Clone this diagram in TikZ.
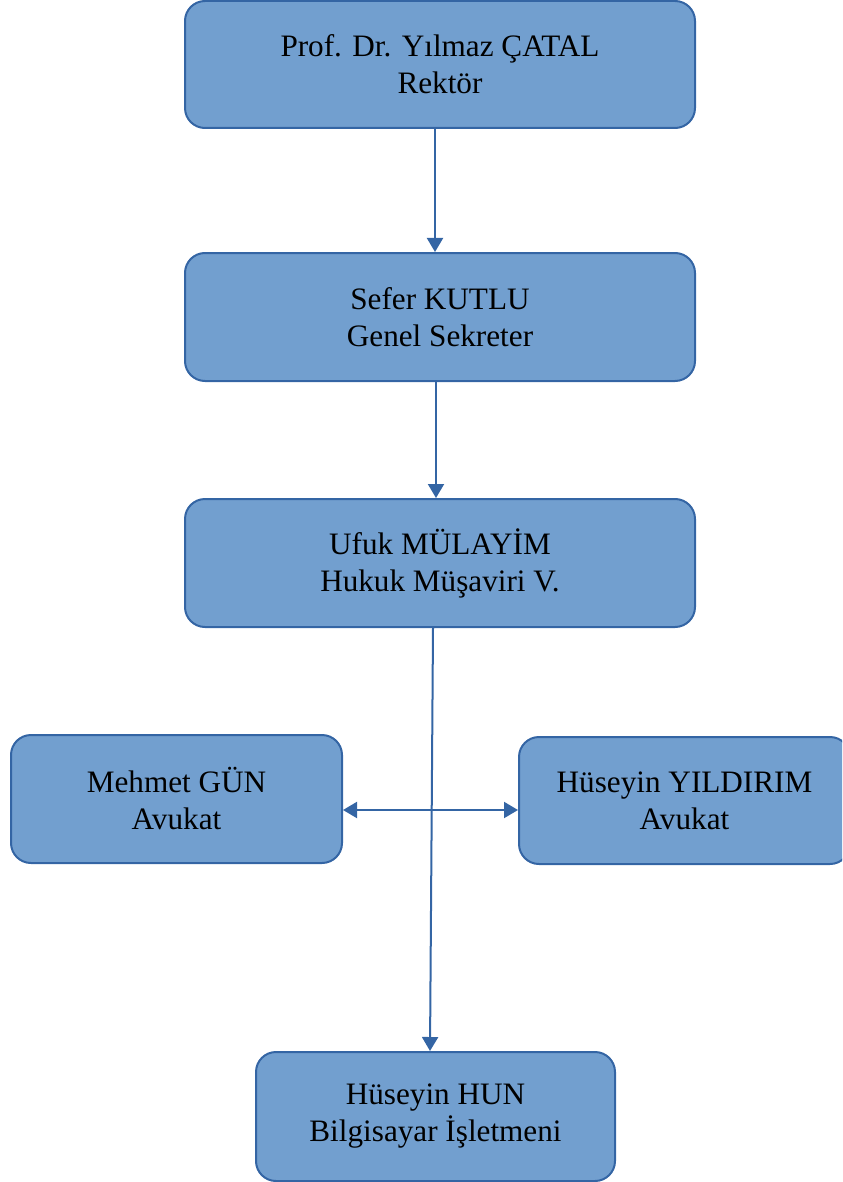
\documentclass[tikz,border=0pt]{standalone}
\usepackage{fontspec}
\setmainfont{Liberation Serif}
\usetikzlibrary{arrows.meta}
\definecolor{kutu}{HTML}{729FCF}
\definecolor{kenar}{HTML}{3465A4}

\begin{document}
\begin{tikzpicture}[x=0.5pt,y=-0.5pt,
    kisi/.style={draw=kenar, fill=kutu, line width=1pt, rounded corners=10pt,
      align=center, inner sep=0pt, font=\fontsize{15.6}{18.5}\selectfont},
    ok/.style={draw=kenar, line width=1pt, -{Triangle[length=7pt,width=8pt]}},
    ciftok/.style={ok, {Triangle[length=7pt,width=8pt]}-{Triangle[length=7pt,width=8pt]}}]
      \clip (0,0) rectangle (842,1182);
      % \draw[very thin, gray, step=50] (0,0) grid (842,1182);
      \node[kisi, minimum width=255pt, minimum height=63.5pt] (rektor) at (440,64.5) {Prof. Dr. Yılmaz ÇATAL\\Rektör};
      \node[kisi, minimum width=255pt, minimum height=64pt] (sekreter) at (440,317) {Sefer KUTLU\\ Genel Sekreter};
      \node[kisi, minimum width=255pt, minimum height=64pt] (musavir) at (440,563) {Ufuk MÜLAYİM\\Hukuk Müşaviri V.};

      \node[kisi, minimum width=165.5pt, minimum height=64pt] (gun) at (176.5,799) {Mehmet GÜN\\Avukat};
      \node[kisi, minimum width=165.5pt, minimum height=63.5pt] (yildirim) at (684.5,800.5) {Hüseyin YILDIRIM\\Avukat};

      \node[kisi, minimum width=179.5pt, minimum height=64.5pt] (hun) at (435.5,1116.5) {Hüseyin HUN\\Bilgisayar İşletmeni};

      \draw[ok] ([xshift=-2.5pt]rektor.south) -- ([xshift=-2.5pt]sekreter.north);
      \draw[ok] ([xshift=-2pt]sekreter.south) -- ([xshift=-2pt]musavir.north);
      \draw[ok] ([xshift=-3.5pt]musavir.south) -- ([xshift=-2.75pt]hun.north);
      \draw[ciftok] ([yshift=-5.5pt]gun.east) -- ([yshift=-5.5pt]gun.east -| yildirim.west);
\end{tikzpicture}
\end{document}
